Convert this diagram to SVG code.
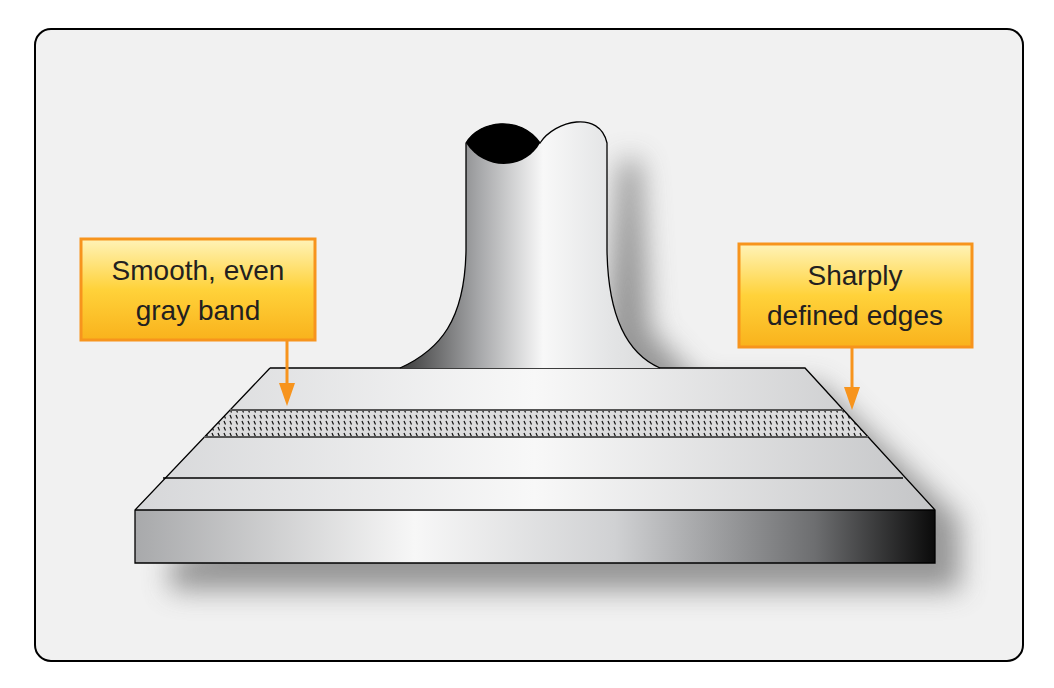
<svg xmlns="http://www.w3.org/2000/svg" width="1054" height="688" viewBox="0 0 1054 688">
<defs>
<linearGradient id="metal" x1="0" x2="1" y1="0" y2="0">
<stop offset="0" stop-color="#a8a9ab"/><stop offset="0.35" stop-color="#f7f7f7"/><stop offset="0.6" stop-color="#d0d1d3"/><stop offset="0.85" stop-color="#6d6e70"/><stop offset="1" stop-color="#0a0a0a"/>
</linearGradient>
<linearGradient id="face" x1="0" x2="1"><stop offset="0" stop-color="#d6d7d9"/><stop offset="0.5" stop-color="#f8f8f8"/><stop offset="1" stop-color="#c4c5c7"/></linearGradient>
<linearGradient id="stem" x1="0" x2="1"><stop offset="0" stop-color="#3a3a3a"/><stop offset="0.3" stop-color="#a5a6a8"/><stop offset="0.55" stop-color="#f8f8f8"/><stop offset="0.8" stop-color="#e4e5e6"/><stop offset="1" stop-color="#d9dadb"/></linearGradient>
<linearGradient id="box" x1="0" x2="0" y1="0" y2="1"><stop offset="0" stop-color="#fff3b8"/><stop offset="0.5" stop-color="#ffd23a"/><stop offset="1" stop-color="#f9b21c"/></linearGradient>
<pattern id="dots" width="6" height="6" patternUnits="userSpaceOnUse"><rect width="6" height="6" fill="#dcdcdd"/><line x1="2" y1="1" x2="3.5" y2="4.5" stroke="#111" stroke-width="1.2"/></pattern>
<filter id="blur" x="-20%" y="-20%" width="140%" height="160%"><feGaussianBlur stdDeviation="14"/></filter>
<style>
.ln{stroke:#000;stroke-width:1.3;fill:none}
.box{fill:url(#box);stroke:#f7941d;stroke-width:3}
.t{font-family:"Liberation Sans",Arial,sans-serif;font-size:28px;fill:#231f20;text-anchor:middle}
.ar{stroke:#f7941d;stroke-width:3;fill:none}
.ah{fill:#f7941d}
</style>
</defs>
<rect x="35" y="29" width="988" height="632" rx="16" fill="#f1f1f1" stroke="#000" stroke-width="2"/>
<g id="shadow" filter="url(#blur)" fill="#777" opacity="0.75">
<path d="M620,160 L640,160 L650,330 L700,385 L820,385 L960,520 L960,590 L170,590 L170,560 L600,380 Z"/>
</g>
<g id="base">
<path d="M270,368 L805,368 L935,510 L135,510 Z" fill="url(#face)"/>
<path d="M230,410 L843,410 L868,437 L204,437 Z" fill="url(#dots)"/>
<rect x="135" y="510" width="800" height="53" fill="url(#metal)"/>
<path class="ln" d="M270,368 L805,368 L935,510 L935,563 L135,563 L135,510 L270,368"/>
<line class="ln" x1="135" y1="510" x2="935" y2="510"/>
<line x1="230" y1="410" x2="843" y2="410" stroke="#555" stroke-width="2"/>
<line x1="204" y1="437" x2="868" y2="437" stroke="#555" stroke-width="2"/>
<line class="ln" x1="163" y1="478" x2="903" y2="478"/>
</g>
<g id="stem">
<path d="M466,143 C480,120 520,115 540,143 C555,120 600,110 607,143 L607,250 C608,320 630,355 660,368 L400,368 C440,350 465,320 466,250 Z" fill="url(#stem)"/>
<path d="M466,143 C480,120 520,115 540,143 C525,170 485,172 466,143 Z" fill="#000"/>
<path class="ln" d="M400,368 C440,350 465,320 466,250 L466,143 C480,120 520,115 540,143 C555,120 600,110 607,143 L607,250 C608,320 630,355 660,368"/>
</g>
<g id="connectors">
<line class="ar" x1="287" y1="340" x2="287" y2="385"/>
<path class="ah" d="M279,383 L295,383 L287,406 Z"/>
<line class="ar" x1="852" y1="347" x2="852" y2="389"/>
<path class="ah" d="M844,387 L860,387 L852,410 Z"/>
</g>
<g id="label-left">
<rect class="box" x="81" y="239" width="234" height="101"/>
<text class="t" x="198" y="280">Smooth, even</text>
<text class="t" x="198" y="320">gray band</text>
</g>
<g id="label-right">
<rect class="box" x="739" y="244" width="233" height="103"/>
<text class="t" x="855" y="285">Sharply</text>
<text class="t" x="855" y="325">defined edges</text>
</g>
</svg>
